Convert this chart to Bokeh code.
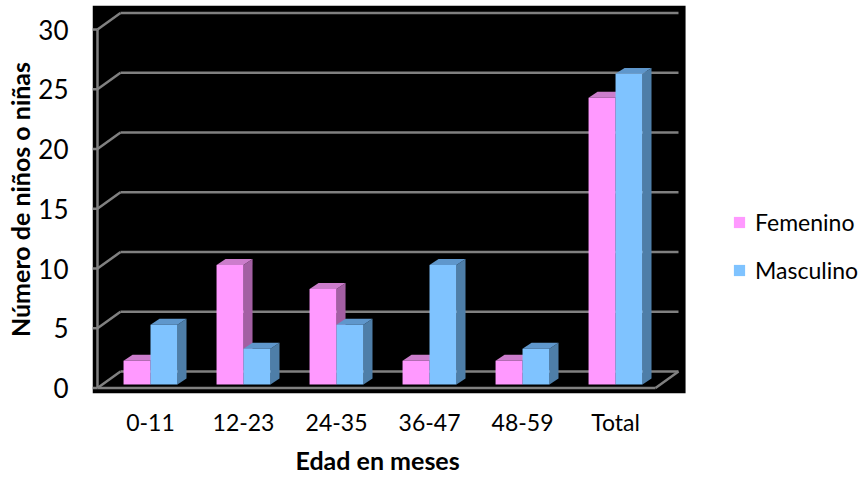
import numpy as np
from bokeh.plotting import figure
from bokeh.models import Range1d, FixedTicker, Legend, LegendItem, Title
from bokeh.embed import file_html
from bokeh.resources import INLINE

# ---- data ----
categories = ["0-11", "12-23", "24-35", "36-47", "48-59", "Total"]
femenino = [2, 10, 8, 2, 2, 24]
masculino = [5, 3, 5, 10, 3, 26]
y_ticks = [0, 5, 10, 15, 20, 25, 30]

# ---- style / geometry constants (data units) ----
FONT = "Lato"
PINK = ("#FF99FF", "#CC7DCC", "#A35FA3")   # front, top, side
BLUE = ("#7FC3FF", "#5F97CC", "#4E7EA8")
GRID = "#808080"
BAR_W = 0.29
BAR_DX, BAR_DY = 0.097, 0.50
BASE = 0.29
AX = -0.57                 # front-left edge of the 3D box
WALL_DX, WALL_DY = 0.247, 1.38
FLOOR_END = 5.43
WALL_END = FLOOR_END + WALL_DX
X0, X1 = -0.6237, 7.72      # visible x extent
BG_RIGHT = 5.753            # right edge of the black plot area
Y0, Y1 = -0.46, 32.01

p = figure(frame_width=776, frame_height=388, output_backend="svg", toolbar_location=None,
           x_range=Range1d(X0, X1), y_range=Range1d(Y0, Y1),
           min_border_left=92, min_border_right=0, min_border_top=5,
           min_border_bottom=86)
p.background_fill_color = "white"
p.border_fill_color = "white"
p.outline_line_color = None
p.xgrid.visible = False
p.ygrid.visible = False

# black plot area
p.quad(left=[X0], right=[BG_RIGHT], bottom=[Y0], top=[Y1], fill_color="black", line_color=None)

# ---- 3D box: left wall, back wall gridlines, floor ----
yt = np.array(y_ticks, dtype=float)
p.segment(x0=[AX] * len(yt), y0=yt, x1=[AX + WALL_DX] * len(yt), y1=yt + WALL_DY,
          line_color=GRID, line_width=2.5)
p.segment(x0=[AX + WALL_DX] * len(yt), y0=yt + WALL_DY, x1=[WALL_END] * len(yt),
          y1=yt + WALL_DY, line_color=GRID, line_width=2.5)
p.segment(x0=[AX - 0.055] * len(yt), y0=yt, x1=[AX] * len(yt), y1=yt,
          line_color=GRID, line_width=2.5)
p.segment(x0=[AX], y0=[min(y_ticks)], x1=[AX], y1=[max(y_ticks)],
          line_color=GRID, line_width=2.5)
p.segment(x0=[AX, FLOOR_END], y0=[0, 0], x1=[FLOOR_END, WALL_END], y1=[0, WALL_DY],
          line_color=GRID, line_width=2.5)

# ---- 3D bars ----
idx = np.arange(len(categories), dtype=float)

def bars(left, vals, colors):
    vals = np.array(vals, dtype=float)
    right = left + BAR_W
    top = vals + BASE
    side_xs = [[r, r, r + BAR_DX, r + BAR_DX] for r in right]
    side_ys = [[BASE, t, t + BAR_DY, BASE + BAR_DY] for t in top]
    top_xs = [[l, r, r + BAR_DX, l + BAR_DX] for l, r in zip(left, right)]
    top_ys = [[t, t, t + BAR_DY, t + BAR_DY] for t in top]
    p.patches(xs=side_xs, ys=side_ys, fill_color=colors[2], line_color=None)
    p.patches(xs=top_xs, ys=top_ys, fill_color=colors[1], line_color=None)
    return p.quad(left=left, right=right, bottom=BASE, top=top,
                  fill_color=colors[0], line_color=None)

r_f = bars(idx - BAR_W, femenino, PINK)
r_m = bars(idx, masculino, BLUE)

# ---- axes ----
p.yaxis.ticker = FixedTicker(ticks=y_ticks)
p.yaxis.axis_line_color = None
p.yaxis.major_tick_line_color = None
p.yaxis.minor_tick_line_color = None
p.yaxis.major_label_standoff = 18
p.yaxis.major_label_text_font = FONT
p.yaxis.major_label_text_font_size = "26px"
p.yaxis.major_label_text_color = "black"
p.yaxis.axis_label = "Número de niños o niñas"
p.yaxis.axis_label_text_font = FONT
p.yaxis.axis_label_text_font_size = "25px"
p.yaxis.axis_label_text_font_style = "bold"
p.yaxis.axis_label_text_color = "black"
p.yaxis.axis_label_standoff = 0

p.xaxis.ticker = FixedTicker(ticks=list(range(len(categories))))
p.xaxis.major_label_overrides = {i: c for i, c in enumerate(categories)}
p.xaxis.axis_line_color = None
p.xaxis.major_tick_line_color = None
p.xaxis.minor_tick_line_color = None
p.xaxis.major_label_standoff = 8
p.xaxis.major_label_text_font = FONT
p.xaxis.major_label_text_font_size = "23px"
p.xaxis.major_label_text_color = "black"

# x-axis title, centred under the black plot area (not the whole frame)
xtitle = Title(text="Edad en meses", align="left", offset=203, standoff=9,
               text_font=FONT, text_font_size="25px", text_font_style="bold",
               text_color="black")
p.add_layout(xtitle, "below")

# ---- legend (screen units from the frame's bottom-left) ----
legend = Legend(items=[LegendItem(label="Femenino", renderers=[r_f]),
                       LegendItem(label="Masculino", renderers=[r_m])],
                location=(640, 109))
legend.glyph_width = 14
legend.glyph_height = 14
legend.label_standoff = 9
legend.label_text_font = FONT
legend.label_text_font_size = "23px"
legend.label_text_color = "black"
legend.label_height = 28
legend.spacing = 20
legend.padding = 0
legend.margin = 0
legend.border_line_color = None
legend.background_fill_alpha = 0
p.add_layout(legend)

open("out.html", "w").write(file_html(p, INLINE))
